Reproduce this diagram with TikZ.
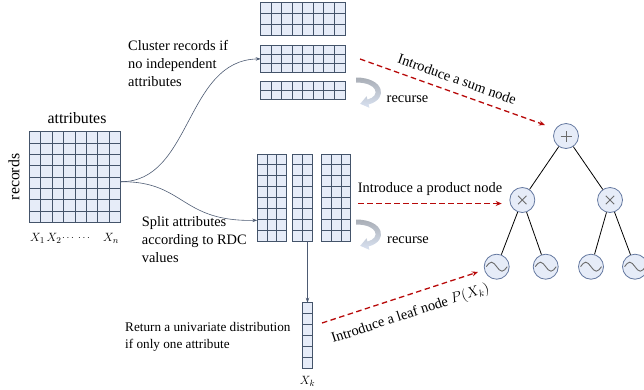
\documentclass[tikz,border=0pt]{standalone}
\usepackage{fontspec}
\setmainfont{Liberation Serif}
\usetikzlibrary{arrows.meta,calc}
\definecolor{gridline}{HTML}{44546A}
\definecolor{gridfill}{HTML}{E6ECF8}
\definecolor{circline}{HTML}{6478A0}
\definecolor{conn}{HTML}{4D5B73}
\definecolor{dred}{HTML}{B80A0A}
\definecolor{rectop}{HTML}{A9AEB6}
\definecolor{recbot}{HTML}{D9E2F1}
\definecolor{symgray}{HTML}{6B6B6B}
\newcommand\lblfont{\fontsize{14.4}{18}\selectfont}
\newcommand\blk[7]{%
  \node[blkbox, anchor=north west, minimum width={#4*#6*1pt}, minimum height={#5*#7*1pt}] (#1) at (#2,-#3) {};
  \foreach \i in {0,...,#4} \draw[gridln] ($(#1.north west)+(\i*#6,0)$) -- ($(#1.south west)+(\i*#6,0)$);
  \foreach \j in {0,...,#5} \draw[gridln] ($(#1.north west)+(0,-\j*#7)$) -- ($(#1.north east)+(0,-\j*#7)$);
}
\newcommand\recshape[1]{%
  \shade[top color=rectop, bottom color=recbot, shift={(0,#1)}]
    (356,-77.5) .. controls (384,-77.5) and (389,-99) .. (368.6,-104.4)
    -- (369.4,-107.8) -- (360.2,-103.8) -- (366.6,-96.2) -- (367.4,-99.6)
    .. controls (381,-96) and (378,-82.5) .. (356,-82.5) -- cycle;
}
\tikzset{
  blkbox/.style={fill=gridfill, draw=none, inner sep=0pt, outer sep=0pt},
  gridln/.style={draw=gridline, line width=1pt, line cap=rect},
  txt/.style={font=\lblfont, inner sep=0pt, align=left},
  smalltxt/.style={font=\fontsize{13.2}{17}\selectfont, inner sep=0pt, align=left},
  conn/.style={draw=conn, line width=0.6pt, -{Stealth[length=5pt,width=3.5pt]}},
  redarrow/.style={draw=dred, line width=1.3pt, dash pattern=on 5.5pt off 3.5pt, -{Stealth[length=6pt,width=5pt]}},
  opnode/.style={circle, draw=circline, fill=gridfill, line width=0.8pt, minimum size=25pt, inner sep=0pt},
  sym/.style={draw=symgray, line width=0.9pt},
  edge/.style={draw=black, line width=0.8pt},
  mathlbl/.style={font=\fontsize{12.5}{15}\selectfont, inner sep=0pt},
  dotlbl/.style={font=\fontsize{10}{12}\selectfont, inner sep=0pt}
}
\begin{document}
\begin{tikzpicture}[x=1pt,y=1pt]
\useasboundingbox (0,0) rectangle (644,-389);
% main table
\blk{main}{29.3}{131.7}{8}{8}{11.43}{11.33}
\node[font=\fontsize{15.8}{18}\selectfont, inner sep=0pt] (attr) at (77,-118) {attributes};
\node[font=\fontsize{15.8}{18}\selectfont, inner sep=0pt, rotate=90] (rec) at (14,-177) {records};
\node[mathlbl] (x1) at (37.5,-238) {$X_1$};
\node[mathlbl] (x2) at (54,-238) {$X_2$};
\node[dotlbl] (d1) at (68,-238) {$\cdots$};
\node[dotlbl] (d2) at (84,-238) {$\cdots$};
\node[mathlbl] (xn) at (111,-238) {$X_n$};
% top clusters
\blk{topa}{260.7}{2}{8}{3}{10.54}{11.2}
\blk{topb}{260.7}{45}{8}{3}{10.54}{9.25}
\blk{topc}{260.7}{81.7}{8}{2}{10.54}{8.8}
% middle splits
\blk{mida}{257.3}{154}{3}{8}{9.8}{10.9}
\blk{midb}{292.7}{154}{2}{8}{10}{10.9}
\blk{midc}{321.7}{154}{3}{8}{9.67}{10.9}
% single column
\blk{single}{302.7}{302.7}{1}{6}{9.6}{10.95}
\node[mathlbl] (xk) at (307.5,-381) {$X_k$};
% texts
\node[txt, anchor=west] (tcluster) at (128,-63.5) {Cluster records if\\no independent\\attributes};
\node[txt, anchor=west] (tsplit) at (141.7,-240) {Split attributes\\according to RDC\\values};
\node[smalltxt, anchor=west] (treturn) at (125,-337) {Return a univariate distribution\\if only one attribute};
\node[txt] (rec1) at (407.5,-99) {recurse};
\node[txt] (rec2) at (408,-240) {recurse};
% connectors from main table
\coordinate (mstart) at ($(main.east)+(0,-4.7)$);
\draw[conn] (mstart) .. controls (192,-182) and (185,-60) .. (topb.west);
\draw[conn] (mstart) .. controls (185,-181) and (180,-222) .. ($(mida.south west)!0.24!(mida.north west)$);
\draw[conn] (single.north |- midb.south) -- (single.north);
% recurse arrows
\recshape{0}
\recshape{-142}
% tree
\node[opnode] (sum) at (566,-136) {};
\node[opnode] (pl) at (522.3,-200) {};
\node[opnode] (pr) at (610,-200) {};
\node[opnode] (l1) at (496.7,-266.7) {};
\node[opnode] (l2) at (545.7,-266.7) {};
\node[opnode] (l3) at (591,-266.7) {};
\node[opnode] (l4) at (635,-266.7) {};
\draw[sym] ($(sum)+(-5.5,0)$) -- ($(sum)+(5.5,0)$);
\draw[sym] ($(sum)+(0,-5.5)$) -- ($(sum)+(0,5.5)$);
\foreach \p in {pl,pr}{
  \draw[sym] ($(\p)+(-4.2,-4.2)$) -- ($(\p)+(4.2,4.2)$);
  \draw[sym] ($(\p)+(-4.2,4.2)$) -- ($(\p)+(4.2,-4.2)$);
}
\foreach \l in {l1,l2,l3,l4}{
  \draw[sym] ($(\l)+(-10.5,0)$) sin ($(\l)+(-5.25,4.5)$) cos (\l) sin ($(\l)+(5.25,-4.5)$) cos ($(\l)+(10.5,0)$);
}
\draw[edge] (sum) -- (pl);
\draw[edge] (sum) -- (pr);
\draw[edge] (pl) -- (l1);
\draw[edge] (pl) -- (l2);
\draw[edge] (pr) -- (l3);
\draw[edge] (pr) -- (l4);
% red dashed arrows
\coordinate (s1) at (360,-59);
\coordinate (e1) at (545,-125);
\coordinate (s2) at (358.3,-203.5);
\coordinate (e2) at (501.7,-203.5);
\coordinate (s3) at (322,-323);
\coordinate (e3) at (478,-272);
\draw[redarrow] (s1) -- node[txt, sloped, above=8pt, pos=0.5] {Introduce a sum node} (e1);
\draw[redarrow] (s2) -- node[txt, above=7pt, pos=0.5] {Introduce a product node} (e2);
\draw[redarrow] (s3) -- node[txt, sloped, below=11pt, pos=0.53] {Introduce a leaf node $P(X_k)$} (e3);
\end{tikzpicture}
\end{document}
